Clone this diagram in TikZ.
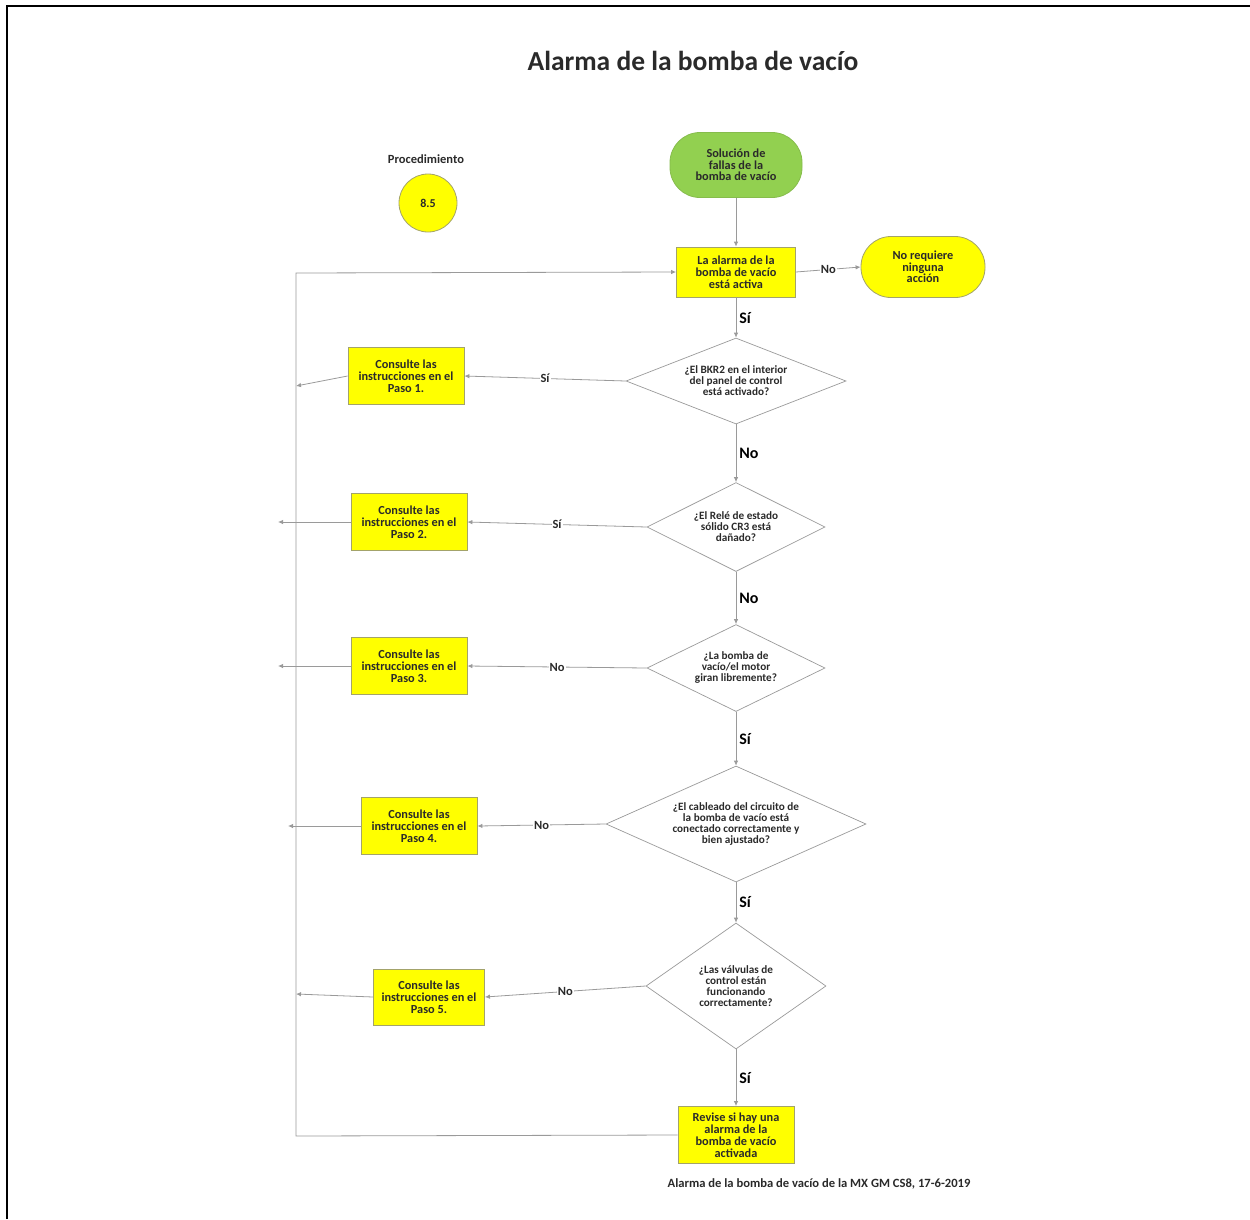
\documentclass[tikz,border=0pt]{standalone}
\usepackage{fontspec}
\setmainfont{Carlito}
\usetikzlibrary{shapes.geometric,arrows.meta}
\definecolor{txt}{HTML}{2A2A2A}
\definecolor{ylw}{HTML}{FFFF00}
\definecolor{ylwb}{HTML}{A3A36A}
\definecolor{grn}{HTML}{92D050}
\definecolor{grnb}{HTML}{86BC4C}
\definecolor{ln}{HTML}{9A9A9A}
\tikzset{
  ybox/.style={draw=ylwb, fill=ylw, line width=0.8pt, minimum width=116pt, minimum height=57pt, inner sep=1pt, align=center, text=txt, font=\fontsize{12.3}{12}\selectfont\bfseries},
  dec/.style={diamond, draw=ln, fill=white, line width=0.7pt, inner sep=0pt, align=center, text=txt, font=\fontsize{11.2}{11}\selectfont\bfseries},
  pill/.style={rounded corners=30pt, line width=0.8pt, align=center, text=txt, font=\fontsize{12.3}{11.5}\selectfont\bfseries},
  arr/.style={draw=ln, line width=0.8pt, -{Latex[length=5pt,width=4.5pt]}},
  elab/.style={fill=white, inner sep=1pt, text=txt, font=\fontsize{12.5}{12}\selectfont\bfseries},
  vlab/.style={right, inner sep=3pt, text=black, font=\fontsize{16}{16}\selectfont\bfseries},
}
\begin{document}
\begin{tikzpicture}[x=1pt,y=-1pt]
\useasboundingbox (0,0) rectangle (1250,1219);
\draw[line width=2pt] (7,1219) -- (7,6) -- (1250,6);
\node[text=txt, font=\fontsize{27.5}{28}\selectfont\bfseries] (title) at (693,61) {Alarma de la bomba de vacío};
\node[text=txt, font=\fontsize{12.5}{12}\selectfont\bfseries] (proc) at (426,159) {Procedimiento};
\node[circle, draw=ylwb, fill=ylw, line width=0.8pt, minimum size=58pt, text=txt, font=\fontsize{12}{12}\selectfont\bfseries] (num) at (428,203) {8.5};

\node[pill, draw=grnb, fill=grn, minimum width=132pt, minimum height=65pt] (start) at (736,165) {Solución de\\fallas de la\\bomba de vacío};
\node[ybox, minimum width=119pt, minimum height=50pt] (b1) at (736,272) {La alarma de la\\bomba de vacío\\está activa};
\node[pill, draw=ylwb, fill=ylw, minimum width=124pt, minimum height=61pt] (none) at (923,267) {No requiere\\ninguna\\acción};

\node[dec, shape aspect=2.56, minimum width=220pt, minimum height=86pt] (d1) at (736,381) {¿El BKR2 en el interior\\del panel de control\\está activado?};
\node[ybox] (p1) at (406,376) {Consulte las\\instrucciones en el\\Paso 1.};
\node[dec, shape aspect=2, minimum width=178pt, minimum height=89pt] (d2) at (736,527) {¿El Relé de estado\\sólido CR3 está\\dañado?};
\node[ybox] (p2) at (409,522) {Consulte las\\instrucciones en el\\Paso 2.};
\node[dec, shape aspect=2.05, minimum width=178pt, minimum height=87pt] (d3) at (736,668) {¿La bomba de\\vacío/el motor\\giran libremente?};
\node[ybox] (p3) at (409,666) {Consulte las\\instrucciones en el\\Paso 3.};
\node[dec, shape aspect=2.24, minimum width=260pt, minimum height=116pt] (d4) at (736,824) {¿El cableado del circuito de\\la bomba de vacío está\\conectado correctamente y\\bien ajustado?};
\node[ybox] (p4) at (419,826) {Consulte las\\instrucciones en el\\Paso 4.};
\node[dec, shape aspect=1.43, minimum width=180pt, minimum height=126pt] (d5) at (736,986) {¿Las válvulas de\\control están\\funcionando\\correctamente?};
\node[ybox, minimum width=111pt, minimum height=56pt] (p5) at (429,997) {Consulte las\\instrucciones en el\\Paso 5.};
\node[ybox, minimum width=116pt, minimum height=57pt] (fin) at (736,1135) {Revise si hay una\\alarma de la\\bomba de vacío\\activada};

\node[text=txt, font=\fontsize{12.6}{12}\selectfont\bfseries] (foot) at (819,1184) {Alarma de la bomba de vacío de la MX GM CS8, 17-6-2019};

\coordinate (e1) at (296,386);
\coordinate (e2) at (278,522);
\coordinate (e3) at (278,666);
\coordinate (e4) at (288,826);
\coordinate (e5) at (296,994);
\coordinate (lb) at (296,1136);
\coordinate (lt) at (296,273);

\draw[arr] (start) -- (b1);
\draw[arr] (b1.east) -- node[elab] {No} (none.west);
\draw[arr] (b1) -- node[vlab] {Sí} (d1.north);
\draw[arr] (d1.west) -- node[elab] {Sí} (p1.east);
\draw[arr] (d1.south) -- node[vlab] {No} (d2.north);
\draw[arr] (d2.west) -- node[elab] {Sí} (p2.east);
\draw[arr] (d2.south) -- node[vlab] {No} (d3.north);
\draw[arr] (d3.west) -- node[elab] {No} (p3.east);
\draw[arr] (d3.south) -- node[vlab] {Sí} (d4.north);
\draw[arr] (d4.west) -- node[elab] {No} (p4.east);
\draw[arr] (d4.south) -- node[vlab] {Sí} (d5.north);
\draw[arr] (d5.west) -- node[elab] {No} (p5.east);
\draw[arr] (d5.south) -- node[vlab] {Sí} (fin.north);

\draw[arr] (p1.west) -- (e1);
\draw[arr] (p2.west) -- (e2);
\draw[arr] (p3.west) -- (e3);
\draw[arr] (p4.west) -- (e4);
\draw[arr] (p5.west) -- (e5);
\draw[arr] (fin.west) -- (lb) -- (lt) -- (b1.west);
\end{tikzpicture}
\end{document}
